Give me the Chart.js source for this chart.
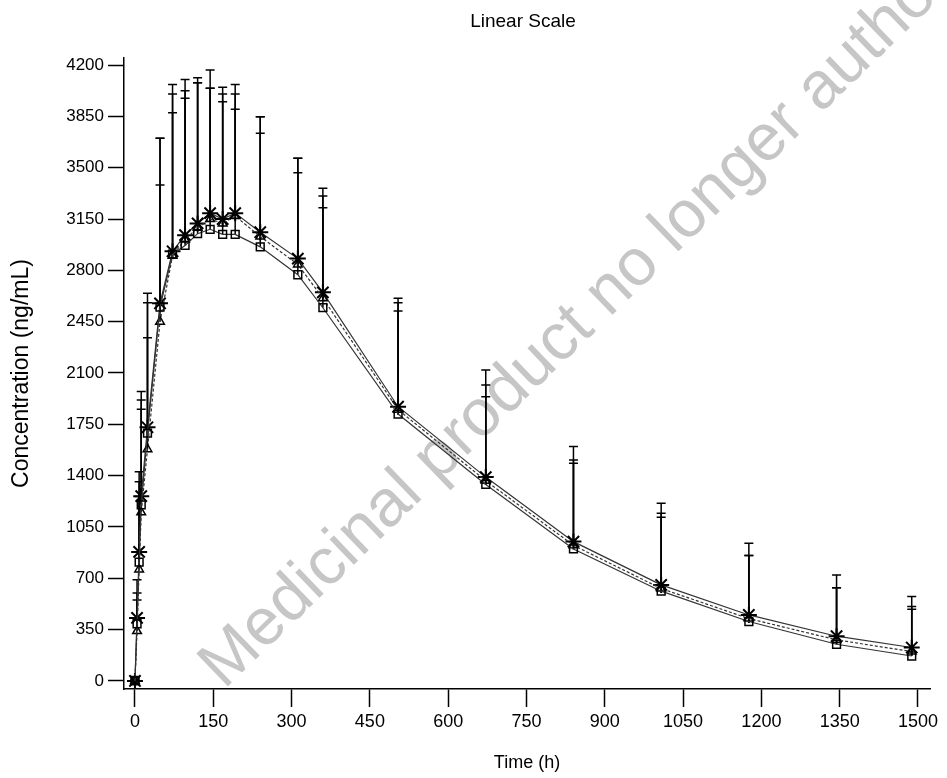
<!DOCTYPE html>
<html>
<head>
<meta charset="utf-8">
<script src="https://cdn.jsdelivr.net/npm/chart.js@4.4.1/dist/chart.umd.min.js"></script>
<style>
  html, body { margin: 0; padding: 0; background: #fff; }
  #wrap { width: 947px; height: 778px; }
</style>
</head>
<body>
<div id="wrap"><canvas id="pkChart" width="947" height="778"></canvas></div>
<script>
// sampling times (h)
const times = [0, 4, 8, 12, 24, 48, 72, 96, 120, 144, 168, 192, 240, 312, 360, 504, 672, 840, 1008, 1176, 1344, 1488];

// mean concentrations (ng/mL)
const squareMean   = [0, 390, 810, 1200, 1690, 2550, 2910, 2970, 3050, 3080, 3045, 3045, 2960, 2770, 2545, 1820, 1340, 900, 612, 405, 250, 170];
const triangleMean = [0, 340, 760, 1150, 1580, 2450, 2900, 3010, 3090, 3150, 3120, 3170, 3030, 2840, 2610, 1850, 1365, 925, 630, 425, 280, 200];
const starMean     = [0, 430, 880, 1260, 1730, 2575, 2930, 3040, 3120, 3190, 3150, 3190, 3060, 2880, 2650, 1870, 1390, 950, 655, 450, 305, 228];

// mean + SD (top of error bars)
const squareUpper   = [10, 552, 1257, 1853, 2341, 3382, 3875, 3973, 4080, 4041, 3950, 3898, 3734, 3466, 3227, 2523, 1938, 1484, 1116, 855, 636, 489];
const triangleUpper = [20, 600, 1359, 1915, 2579, 3700, 4002, 4025, 4080, 4041, 4002, 4002, 3848, 3564, 3307, 2579, 2018, 1507, 1143, 855, 636, 507];
const starUpper     = [30, 690, 1427, 1973, 2643, 3700, 4068, 4102, 4114, 4166, 4048, 4068, 3848, 3564, 3359, 2609, 2120, 1598, 1211, 939, 723, 575];

const xTicks = [0, 150, 300, 450, 600, 750, 900, 1050, 1200, 1350, 1500];
const yTicks = [0, 350, 700, 1050, 1400, 1750, 2100, 2450, 2800, 3150, 3500, 3850, 4200];

const FONT = "'Liberation Sans', Arial, sans-serif";

function pts(means) {
    return times.map((t, i) => ({ x: t, y: means[i] }));
}

const errorBars = {
    id: 'errorBars',
    beforeDatasetsDraw(chart) {
        const { ctx, scales: { x, y } } = chart;
        const sets = [[squareMean, squareUpper], [triangleMean, triangleUpper], [starMean, starUpper]];
        ctx.save();
        ctx.strokeStyle = '#000';
        ctx.lineWidth = 1.5;
        sets.forEach(([m, u]) => {
            times.forEach((t, i) => {
                const px = x.getPixelForValue(t);
                const y0 = y.getPixelForValue(m[i]);
                const y1 = y.getPixelForValue(u[i]);
                ctx.beginPath();
                ctx.moveTo(px, y0);
                ctx.lineTo(px, y1);
                ctx.moveTo(px - 4.5, y1);
                ctx.lineTo(px + 4.5, y1);
                ctx.stroke();
            });
        });
        ctx.restore();
    }
};

// watermark + title centred over the plot area
const decorations = {
    id: 'decorations',
    beforeDraw(chart) {
        const ctx = chart.ctx;
        ctx.save();
        ctx.translate(224, 690);
        ctx.rotate(-44 * Math.PI / 180);
        ctx.fillStyle = '#c6c6c6';
        ctx.font = "66px 'Liberation Sans', Arial, sans-serif";
        ctx.fillText('Medicinal product no longer authorised', 0, 0);
        ctx.restore();
    },
    afterDraw(chart) {
        const { ctx, chartArea } = chart;
        ctx.save();
        ctx.fillStyle = '#000';
        ctx.font = "19px " + FONT;
        ctx.textAlign = 'center';
        ctx.textBaseline = 'middle';
        ctx.fillText('Linear Scale', (chartArea.left + chartArea.right) / 2 - 4, 22);
        ctx.restore();
    }
};

new Chart(document.getElementById('pkChart'), {
    type: 'scatter',
    data: {
        datasets: [
            {
                label: 'Squares',
                data: pts(squareMean),
                showLine: true,
                borderColor: '#333',
                borderWidth: 1.2,
                pointStyle: 'rect',
                pointRadius: 5.5,
                pointBorderColor: '#000',
                pointBackgroundColor: 'rgba(0,0,0,0)',
                pointBorderWidth: 1.5,
            },
            {
                label: 'Triangles',
                data: pts(triangleMean),
                showLine: true,
                borderColor: '#333',
                borderWidth: 1.2,
                borderDash: [3, 2],
                pointStyle: 'triangle',
                pointRadius: 5,
                pointBorderColor: '#000',
                pointBackgroundColor: 'rgba(0,0,0,0)',
                pointBorderWidth: 1.5,
            },
            {
                label: 'Stars',
                data: pts(starMean),
                showLine: true,
                borderColor: '#333',
                borderWidth: 1.2,
                pointStyle: 'star',
                pointRadius: 8,
                pointBorderColor: '#000',
                pointBorderWidth: 2,
            }
        ]
    },
    options: {
        responsive: false,
        animation: false,
        layout: { padding: { top: 58, right: 17, left: 0, bottom: 0 } },
        plugins: {
            legend: { display: false },
            tooltip: { enabled: false },
            title: { display: false },
        },
        scales: {
            x: {
                type: 'linear',
                min: -21,
                max: 1523,
                afterBuildTicks: (s) => { s.ticks = xTicks.map(v => ({ value: v })); },
                afterFit: (s) => { s.height = 89; },
                grid: { display: true, drawOnChartArea: false, drawTicks: true, tickLength: 18, tickWidth: 1.5, color: '#000' },
                border: { display: true, color: '#000', width: 1.5 },
                ticks: { color: '#000', padding: 4, maxRotation: 0, autoSkip: false, font: { family: FONT, size: 18 }, callback: (v) => String(v) },
                title: { display: true, text: 'Time (h)', color: '#000', font: { family: FONT, size: 18 }, padding: { top: 4, bottom: 4 } },
            },
            y: {
                type: 'linear',
                min: -55,
                max: 4248,
                afterBuildTicks: (s) => { s.ticks = yTicks.map(v => ({ value: v })); },
                afterFit: (s) => { s.width = 124; },
                grid: { display: true, drawOnChartArea: false, drawTicks: true, tickLength: 16, tickWidth: 1.5, color: '#000' },
                border: { display: true, color: '#000', width: 1.5 },
                ticks: { color: '#000', padding: 4, autoSkip: false, font: { family: FONT, size: 17 }, callback: (v) => String(v) },
                title: { display: true, text: 'Concentration (ng/mL)', color: '#000', font: { family: FONT, size: 23 }, padding: { top: 8, bottom: 4 } },
            },
        },
    },
    plugins: [decorations, errorBars],
});
</script>
</body>
</html>
